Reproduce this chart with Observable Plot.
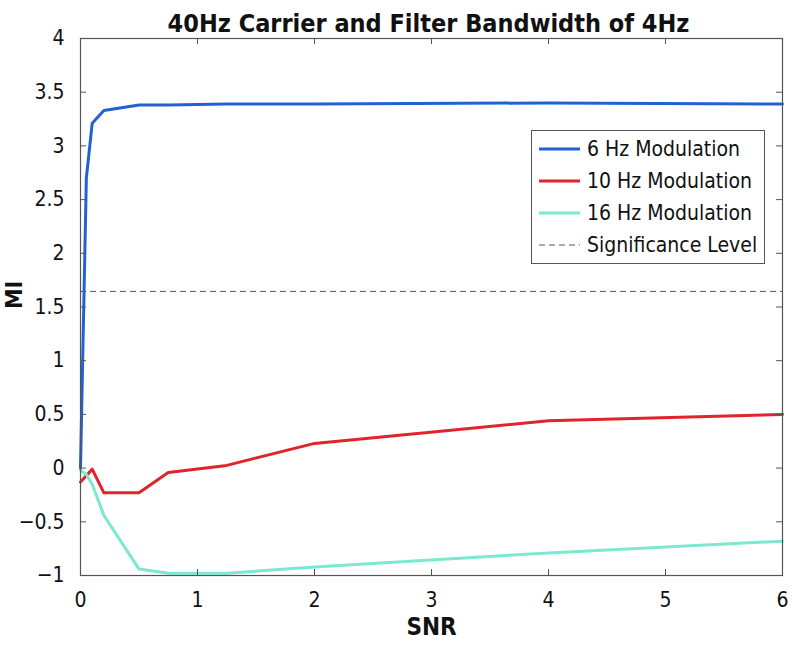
<!DOCTYPE html>
<html>
<head>
<meta charset="utf-8">
<script src="https://cdn.jsdelivr.net/npm/d3@7"></script>
<script src="https://cdn.jsdelivr.net/npm/@observablehq/plot@0.6"></script>
<style>
  body { margin: 0; background: #fff; }
  #wrap { position: relative; width: 792px; height: 648px; font-family: "DejaVu Sans Condensed", "DejaVu Sans", sans-serif; font-stretch: condensed; }
  #wrap svg text { font-stretch: condensed; }
  #legend { position: absolute; left: 531px; top: 130px; width: 232px; height: 132px; border: 1px solid #555; background: #fff; }
  .row { position: absolute; left: 0; height: 26px; display: flex; align-items: center; font-size: 21px; color: #111; white-space: nowrap; }
  .row svg { margin-left: 7px; margin-right: 7px; }
</style>
</head>
<body>
<div id="wrap"></div>
<script>
const snr = [0, 0.05, 0.1, 0.2, 0.5, 0.75, 1.25, 2, 4, 6];
const mi6 = [0, 2.7, 3.21, 3.33, 3.38, 3.38, 3.39, 3.39, 3.40, 3.39];
const mi10 = [-0.13, -0.07, -0.01, -0.23, -0.23, -0.04, 0.025, 0.23, 0.44, 0.50];
const mi16 = [-0.02, -0.06, -0.15, -0.44, -0.94, -0.98, -0.98, -0.92, -0.79, -0.68];
const significance = 1.645;
const seriesNames = ["6 Hz Modulation", "10 Hz Modulation", "16 Hz Modulation"];
const seriesColors = ["#2261d4", "#e0242c", "#7be9cf"];
const xTicks = [0, 1, 2, 3, 4, 5, 6];
const yTicks = [-1, -0.5, 0, 0.5, 1, 1.5, 2, 2.5, 3, 3.5, 4];
const title = "40Hz Carrier and Filter Bandwidth of 4Hz";
const xLabel = "SNR";
const yLabel = "MI";

const allSeries = [mi6, mi10, mi16];
const rows = [];
allSeries.forEach((vals, i) => snr.forEach((x, j) => rows.push({series: seriesNames[i], x, y: vals[j]})));

const W = 792, H = 648, mL = 80, mR = 10, mT = 38, mB = 73;
const innerW = W - mL - mR, innerH = H - mT - mB;
const tl = 6;
const fam = "DejaVu Sans Condensed, DejaVu Sans, sans-serif";

const chart = Plot.plot({
  width: W, height: H,
  marginLeft: mL, marginRight: mR, marginTop: mT, marginBottom: mB,
  style: {fontFamily: fam, background: "#fff", color: "#111"},
  x: {domain: [0, 6], ticks: xTicks},
  y: {domain: [-1, 4], ticks: yTicks},
  color: {domain: seriesNames, range: seriesColors},
  marks: [
    Plot.ruleY([significance], {stroke: "#555", strokeWidth: 1, strokeDasharray: "6,4"}),
    Plot.line(rows, {x: "x", y: "y", z: "series", stroke: "series", strokeWidth: 3, strokeLinejoin: "round"}),
    Plot.frame({stroke: "#555", strokeWidth: 1.2}),
    Plot.tickX(xTicks, {x: d => d, insetTop: innerH - tl, stroke: "#555"}),
    Plot.tickX(xTicks, {x: d => d, insetBottom: innerH - tl, stroke: "#555"}),
    Plot.tickY(yTicks, {y: d => d, insetRight: innerW - tl, stroke: "#555"}),
    Plot.tickY(yTicks, {y: d => d, insetLeft: innerW - tl, stroke: "#555"}),
    Plot.axisX(xTicks, {tickSize: 0, tickPadding: 17, fontSize: 21, label: null, fill: "#111", tickFormat: d3.format("d")}),
    Plot.axisY(yTicks, {tickSize: 0, tickPadding: 16, fontSize: 21, label: null, fill: "#111", tickFormat: d => d3.format("")(d).replace("-", "\u2212")}),
    Plot.text([title], {frameAnchor: "top", dx: -3, dy: -24, fontSize: 25, fontWeight: "bold", fill: "#111"}),
    Plot.text([xLabel], {frameAnchor: "bottom", dy: 59, fontSize: 24, fontWeight: "bold", fill: "#111"}),
    Plot.text([yLabel], {frameAnchor: "left", dx: -66, dy: 2, rotate: -90, fontSize: 23, fontWeight: "bold", fill: "#111"})
  ]
});

const wrap = document.getElementById("wrap");
wrap.appendChild(chart);

const legend = document.createElement("div");
legend.id = "legend";
const entries = seriesNames.map((n, i) => ({name: n, color: seriesColors[i], dash: null, w: 3}));
entries.push({name: "Significance Level", color: "#555", dash: "6,4", w: 1});
entries.forEach((e, i) => {
  const r = document.createElement("div");
  r.className = "row";
  r.style.top = (5 + i * 32) + "px";
  r.innerHTML = `<svg width="41" height="10"><line x1="0" x2="41" y1="5" y2="5" stroke="${e.color}" stroke-width="${e.w}" ${e.dash ? `stroke-dasharray="${e.dash}"` : ""}/></svg><span>${e.name}</span>`;
  legend.appendChild(r);
});
wrap.appendChild(legend);
</script>
</body>
</html>
